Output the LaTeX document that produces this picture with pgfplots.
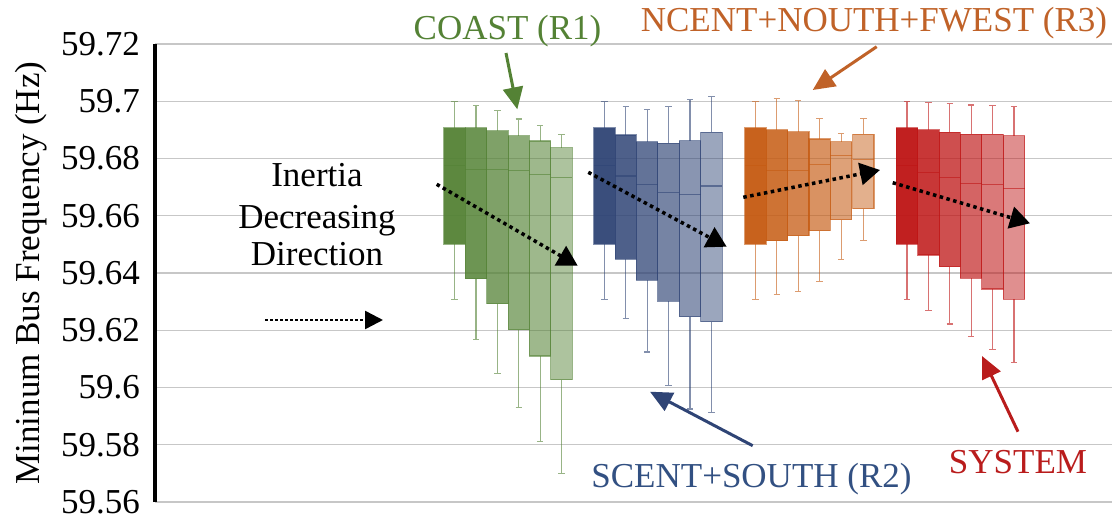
\documentclass[border=0pt]{standalone}
\usepackage{fontspec}
\setmainfont{Liberation Serif}
\usepackage{pgfplots}
\pgfplotsset{compat=1.18}
\usetikzlibrary{arrows.meta}
\definecolor{cG}{RGB}{84,130,53}
\definecolor{cB}{RGB}{47,68,117}
\definecolor{cO}{RGB}{197,90,17}
\definecolor{cR}{RGB}{190,20,20}
\definecolor{tG}{RGB}{84,130,53}
\definecolor{tB}{RGB}{50,80,130}
\definecolor{tO}{RGB}{192,98,40}
\definecolor{tR}{RGB}{185,28,28}
% #1 position, #2 lower whisker, #3 lower quartile, #4 median, #5 upper quartile, #6 upper whisker, #7 colour, #8 fill opacity
\newcommand{\bx}[8]{%
 \pgfmathsetmacro\xl{#1-0.5}\pgfmathsetmacro\xr{#1+0.5}%
 \pgfmathsetmacro\cl{#1-0.15}\pgfmathsetmacro\cR{#1+0.15}%
 \pgfmathsetmacro\dop{min(1,#8+0.12)}%
 \addplot[draw=#7, fill=#7, fill opacity=#8, draw opacity=\dop, line width=1.1pt, mark=none] coordinates {(\xl,#3) (\xr,#3) (\xr,#5) (\xl,#5)} -- cycle;
 \addplot[draw=#7, draw opacity=\dop, line width=1.1pt, mark=none, unbounded coords=jump] coordinates {(\xl,#4) (\xr,#4) (#1,nan) (#1,#5) (#1,#6) (#1,nan) (\cl,#6) (\cR,#6) (#1,nan) (#1,#3) (#1,#2) (#1,nan) (\cl,#2) (\cR,#2)};
}
\newcommand{\bigf}{\fontsize{35}{42}\selectfont}
\begin{document}
\begin{tikzpicture}
\useasboundingbox (-155pt,-18pt) rectangle (957pt,502pt);
\begin{axis}[
  at={(0pt,0pt)}, anchor=south west,
  scale only axis, width=957pt, height=458pt,
  xmin=0, xmax=44.72, ymin=59.56, ymax=59.72,
  ytick={59.56,59.58,59.6,59.62,59.64,59.66,59.68,59.7,59.72},
  yticklabels={59.56,59.58,59.6,59.62,59.64,59.66,59.68,59.7,59.72},
  xtick=\empty,
  ymajorgrids, grid style={line width=1.3pt, color=black!22},
  axis line style={draw=none},
  major tick length=0pt,
  yticklabel style={font=\bigf, anchor=east, inner sep=0pt, xshift=-15pt},
  ylabel={Mininum Bus Frequency (Hz)},
  ylabel style={font=\bigf, at={(axis description cs:-0.1296,0.5)}, anchor=center},
  clip=false,
]
% COAST (R1)
\bx{14}{59.6308}{59.650}{59.6774}{59.6908}{59.6998}{cG}{0.95}
\bx{15}{59.6169}{59.638}{59.6763}{59.6908}{59.6985}{cG}{0.85}
\bx{16}{59.605}{59.6293}{59.6763}{59.6897}{59.6967}{cG}{0.75}
\bx{17}{59.593}{59.6202}{59.6758}{59.6879}{59.6938}{cG}{0.66}
\bx{18}{59.581}{59.611}{59.6743}{59.6861}{59.6915}{cG}{0.57}
\bx{19}{59.5698}{59.6027}{59.6733}{59.6838}{59.6885}{cG}{0.48}
% SCENT+SOUTH (R2)
\bx{21}{59.6308}{59.650}{59.6774}{59.6908}{59.6998}{cB}{0.95}
\bx{22}{59.6242}{59.6448}{59.6739}{59.6882}{59.6981}{cB}{0.85}
\bx{23}{59.6124}{59.6374}{59.6708}{59.6859}{59.697}{cB}{0.75}
\bx{24}{59.6007}{59.6302}{59.6682}{59.6853}{59.6981}{cB}{0.66}
\bx{25}{59.5925}{59.6248}{59.6673}{59.6862}{59.7007}{cB}{0.57}
\bx{26}{59.5914}{59.6229}{59.6704}{59.6892}{59.7016}{cB}{0.48}
% NCENT+NOUTH+FWEST (R3)
\bx{28.06}{59.6308}{59.650}{59.6774}{59.6908}{59.6998}{cO}{0.95}
\bx{29.06}{59.6324}{59.6512}{59.6758}{59.690}{59.701}{cO}{0.85}
\bx{30.06}{59.6335}{59.6531}{59.6758}{59.6894}{59.7004}{cO}{0.75}
\bx{31.06}{59.6369}{59.6547}{59.6778}{59.6868}{59.694}{cO}{0.66}
\bx{32.06}{59.6446}{59.6586}{59.6809}{59.6859}{59.6887}{cO}{0.57}
\bx{33.1}{59.6513}{59.6624}{59.6795}{59.6885}{59.694}{cO}{0.48}
% SYSTEM
\bx{35.14}{59.6308}{59.650}{59.6774}{59.6908}{59.700}{cR}{0.95}
\bx{36.14}{59.6269}{59.6463}{59.6752}{59.690}{59.6995}{cR}{0.85}
\bx{37.14}{59.6222}{59.6422}{59.6735}{59.6891}{59.6993}{cR}{0.75}
\bx{38.14}{59.6178}{59.6381}{59.6713}{59.6885}{59.6987}{cR}{0.66}
\bx{39.14}{59.6134}{59.6344}{59.6708}{59.6885}{59.6985}{cR}{0.57}
\bx{40.14}{59.6087}{59.6308}{59.6696}{59.6879}{59.6981}{cR}{0.48}
\draw[line width=4pt, black] (rel axis cs:0,0) -- (rel axis cs:0,1);
\end{axis}
% annotations (1pt = 1px, origin at axis lower-left)
\node[anchor=base, font=\bigf, text=tG, inner sep=0pt] at (352.5pt,462.7pt) {COAST (R1)};
\node[anchor=base, font=\bigf, text=tO, inner sep=0pt] at (719pt,470.3pt) {NCENT+NOUTH+FWEST (R3)};
\node[anchor=base, font=\bigf, text=tB, inner sep=0pt] at (596.5pt,14.7pt) {SCENT+SOUTH (R2)};
\node[anchor=base, font=\bigf, text=tR, inner sep=0pt] at (863pt,28.7pt) {SYSTEM};
\node[anchor=base, font=\bigf, inner sep=0pt] at (162pt,315pt) {Inertia};
\node[anchor=base, font=\bigf, inner sep=0pt] at (162pt,273.7pt) {Decreasing};
\node[anchor=base, font=\bigf, inner sep=0pt] at (162pt,236pt) {Direction};
\draw[line width=3pt, tG, -{Triangle[length=22pt,width=20pt]}] (351pt,449pt) -- (362.3pt,392.7pt);
\draw[line width=3pt, tO, -{Triangle[length=22pt,width=20pt]}] (721.7pt,455.3pt) -- (657.7pt,412pt);
\draw[line width=3pt, cB, -{Triangle[length=22pt,width=20pt]}] (597.7pt,56.3pt) -- (495pt,110.3pt);
\draw[line width=3pt, tR, -{Triangle[length=22pt,width=20pt]}] (863pt,70.3pt) -- (827pt,146pt);
\draw[line width=2.5pt, dash pattern=on 2.5pt off 2.5pt, -{Triangle[length=18pt,width=18pt]}] (110pt,182pt) -- (228pt,182pt);
\draw[line width=3.5pt, dash pattern=on 3.5pt off 3.5pt, -{Triangle[length=20pt,width=22pt]}] (281.7pt,317.7pt) -- (422.7pt,236.3pt);
\draw[line width=3.5pt, dash pattern=on 3.5pt off 3.5pt, -{Triangle[length=20pt,width=22pt]}] (433.3pt,329.7pt) -- (571.7pt,255.3pt);
\draw[line width=3.5pt, dash pattern=on 3.5pt off 3.5pt, -{Triangle[length=20pt,width=22pt]}] (588.3pt,304.7pt) -- (725pt,332pt);
\draw[line width=3.5pt, dash pattern=on 3.5pt off 3.5pt, -{Triangle[length=20pt,width=22pt]}] (737.7pt,319.3pt) -- (875pt,278.7pt);
\end{tikzpicture}
\end{document}
